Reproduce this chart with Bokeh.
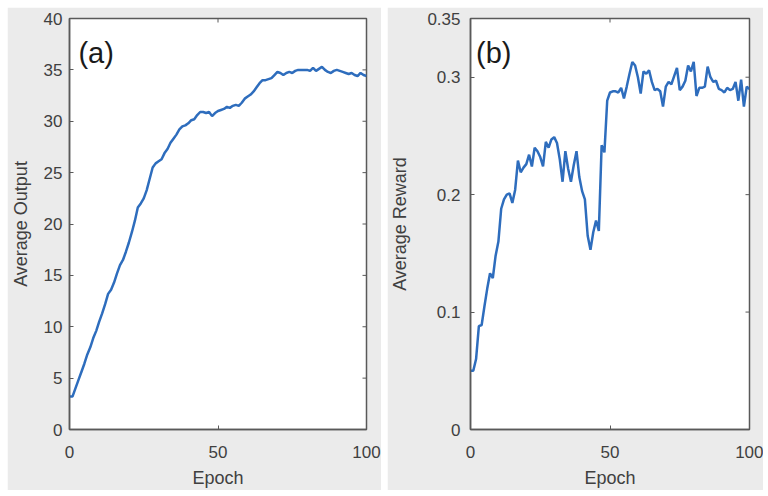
import math
from bokeh.plotting import figure
from bokeh.layouts import row
from bokeh.models import FixedTicker, Range1d, Label
from bokeh.embed import file_html
from bokeh.resources import INLINE

# ---------------- data ----------------
epochs = list(range(0, 101))

avg_output = [
    3.2, 3.2, 4.0, 4.8, 5.6, 6.4, 7.3, 8.0, 8.9, 9.6,
    10.5, 11.3, 12.2, 13.2, 13.6, 14.3, 15.2, 16.0, 16.5, 17.3,
    18.2, 19.2, 20.3, 21.6, 22.0, 22.5, 23.3, 24.4, 25.5, 25.9,
    26.1, 26.3, 26.9, 27.3, 27.9, 28.3, 28.7, 29.2, 29.5, 29.6,
    29.8, 30.1, 30.2, 30.6, 30.9, 30.9, 30.8, 30.9, 30.5, 30.8,
    31.0, 31.1, 31.2, 31.4, 31.3, 31.5, 31.6, 31.5, 31.8, 32.2,
    32.4, 32.6, 32.9, 33.3, 33.7, 34.0, 34.0, 34.1, 34.2, 34.5,
    34.8, 34.7, 34.5, 34.7, 34.8, 34.7, 34.9, 35.0, 35.0, 35.0,
    35.0, 34.9, 35.2, 34.9, 35.1, 35.3, 35.0, 34.8, 34.7, 34.9,
    35.0, 34.9, 34.8, 34.7, 34.6, 34.7, 34.5, 34.4, 34.7, 34.5,
    34.4,
]

avg_reward = [
    0.050, 0.050, 0.060, 0.088, 0.089, 0.105, 0.120, 0.133, 0.129, 0.148,
    0.160, 0.188, 0.196, 0.200, 0.201, 0.193, 0.204, 0.229, 0.219, 0.223,
    0.226, 0.234, 0.224, 0.240, 0.237, 0.232, 0.224, 0.245, 0.240, 0.247,
    0.249, 0.244, 0.230, 0.211, 0.237, 0.222, 0.211, 0.225, 0.237, 0.215,
    0.203, 0.196, 0.165, 0.153, 0.168, 0.178, 0.169, 0.242, 0.236, 0.280,
    0.287, 0.288, 0.288, 0.287, 0.291, 0.282, 0.292, 0.303, 0.313, 0.310,
    0.300, 0.286, 0.305, 0.303, 0.306, 0.296, 0.289, 0.290, 0.288, 0.275,
    0.292, 0.296, 0.294, 0.301, 0.308, 0.289, 0.292, 0.297, 0.310, 0.305,
    0.313, 0.284, 0.291, 0.291, 0.292, 0.309, 0.300, 0.296, 0.297, 0.290,
    0.289, 0.287, 0.291, 0.289, 0.290, 0.296, 0.280, 0.298, 0.275, 0.292,
    0.290,
]

x_ticks = [0, 50, 100]
y_ticks_a = [0, 5, 10, 15, 20, 25, 30, 35, 40]
y_ticks_b = [0, 0.1, 0.2, 0.3, 0.35]
y_tick_labels_b = ["0", "0.1", "0.2", "0.3", "0.35"]

# ---------------- style ----------------
FONT = "Liberation Sans"
BG = "#ebebeb"
AX = "#595959"
TXT = "#404040"
LINE = "#2e6dbd"


def make_panel(width, border_left, border_right, x_end, y_end, yticks,
               ylabel, ylabels=None, ylab_standoff=9, ytick_standoff=7):
    p = figure(width=width, height=483, output_backend="svg",
               toolbar_location=None,
               x_range=Range1d(0, x_end), y_range=Range1d(0, y_end),
               min_border_left=border_left, min_border_right=border_right,
               min_border_top=11, min_border_bottom=59)
    p.background_fill_color = "white"
    p.border_fill_color = BG
    p.outline_line_color = AX
    p.outline_line_width = 1.5
    p.grid.visible = False

    p.xaxis.ticker = FixedTicker(ticks=x_ticks)
    p.yaxis.ticker = FixedTicker(ticks=yticks)
    if ylabels is not None:
        p.yaxis.major_label_overrides = {t: s for t, s in zip(yticks, ylabels)}
    p.xaxis.axis_label = "Epoch"
    p.yaxis.axis_label = ylabel
    for ax in p.xaxis + p.yaxis:
        ax.axis_line_color = AX
        ax.axis_line_width = 1.5
        ax.major_tick_line_color = AX
        ax.major_tick_line_width = 1
        ax.major_tick_in = 4
        ax.major_tick_out = 0
        ax.minor_tick_line_color = None
        ax.major_label_text_font = FONT
        ax.major_label_text_font_size = "17px"
        ax.major_label_text_color = TXT
        ax.axis_label_text_font = FONT
        ax.axis_label_text_font_size = "18px"
        ax.axis_label_text_font_style = "normal"
        ax.axis_label_text_color = TXT
    p.xaxis.major_label_standoff = 16
    p.xaxis.axis_label_standoff = 7
    p.yaxis.major_label_standoff = ytick_standoff
    p.yaxis.axis_label_standoff = ylab_standoff

    # inward tick marks on the top and right edges of the box
    p.ray(x=x_ticks, y=[y_end] * len(x_ticks), length=4,
          length_units="screen", angle=-math.pi / 2,
          line_color=AX, line_width=1)
    p.ray(x=[x_end] * len(yticks), y=yticks, length=4,
          length_units="screen", angle=math.pi,
          line_color=AX, line_width=1)
    return p


p1 = make_panel(374, 59, 15, 100, 40, y_ticks_a, "Average Output",
                ylab_standoff=10, ytick_standoff=7)
p1.line(epochs, avg_output, line_color=LINE, line_width=2.5)
p1.add_layout(Label(x=3, y=36.6, text="(a)", text_font=FONT,
                    text_font_size="29px", text_color="#1a1a1a",
                    text_baseline="middle", text_align="left"))

p2 = make_panel(376, 78, 14, 100, 0.35, y_ticks_b, "Average Reward",
                y_tick_labels_b, ylab_standoff=14, ytick_standoff=10)
p2.line(epochs, avg_reward, line_color=LINE, line_width=2.5)
p2.add_layout(Label(x=2, y=0.321, text="(b)", text_font=FONT,
                    text_font_size="29px", text_color="#1a1a1a",
                    text_baseline="middle", text_align="left"))

layout = row(p1, p2, spacing=6, margin=(7, 0, 0, 7))
open("out.html", "w").write(file_html(layout, INLINE))
